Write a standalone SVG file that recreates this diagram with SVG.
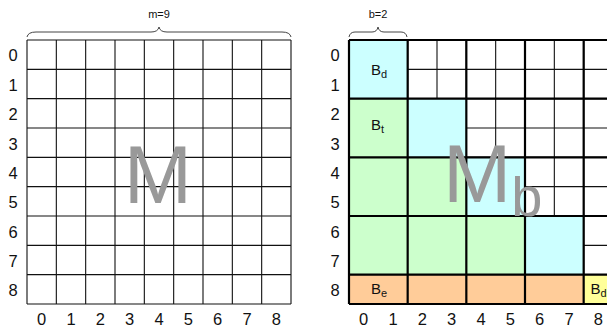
<svg xmlns="http://www.w3.org/2000/svg" width="607" height="331" viewBox="0 0 607 331">
<style>
text{font-family:"Liberation Sans",Arial,sans-serif;fill:#111}
.lbl{font-size:16.5px;text-anchor:middle}
.sm{font-size:11px;text-anchor:middle}
.thin{stroke:#111;stroke-width:1.1;fill:none}
.thick{stroke:#000;stroke-width:2.2;fill:none}
.brace{stroke:#444;stroke-width:1;fill:none}
.big{fill:#999;text-anchor:middle}
.blk{font-size:15px}
.sub{font-size:11px}
.cy{fill:#ccffff}.gr{fill:#ccffcc}.or{fill:#ffcc99}.ye{fill:#ffff99}
</style>
<rect width="607" height="331" fill="#fff"/>
<g id="left-grid">
<path class="thin" d="M27,40H291M27,69.33H291M27,98.67H291M27,128H291M27,157.33H291M27,186.67H291M27,216H291M27,245.33H291M27,274.67H291M27,304H291M27,40V304M56.33,40V304M85.67,40V304M115,40V304M144.33,40V304M173.67,40V304M203,40V304M232.33,40V304M261.67,40V304M291,40V304"/>
<text class="big" x="158" y="203" font-size="82">M</text>
</g>
<g id="left-brace">
<path class="brace" d="M27,37Q28,32 36,32H151Q158,32 159,27Q160,32 167,32H282Q290,32 291,37"/>
<text class="sm" x="159" y="18">m=9</text>
</g>
<g id="left-row-labels">
<text class="lbl" x="13" y="61">0</text><text class="lbl" x="13" y="90.5">1</text><text class="lbl" x="13" y="120">2</text><text class="lbl" x="13" y="149.5">3</text><text class="lbl" x="13" y="178.5">4</text><text class="lbl" x="13" y="208">5</text><text class="lbl" x="13" y="237.5">6</text><text class="lbl" x="13" y="266.5">7</text><text class="lbl" x="13" y="295.5">8</text>
</g>
<g id="left-col-labels">
<text class="lbl" x="41.7" y="325">0</text><text class="lbl" x="71" y="325">1</text><text class="lbl" x="100.3" y="325">2</text><text class="lbl" x="129.7" y="325">3</text><text class="lbl" x="159" y="325">4</text><text class="lbl" x="188.3" y="325">5</text><text class="lbl" x="217.7" y="325">6</text><text class="lbl" x="247" y="325">7</text><text class="lbl" x="276.3" y="325">8</text>
</g>
<g id="right-grid">
<path class="thin" d="M349,40H613M349,69.33H613M349,98.67H613M349,128H613M349,157.33H613M349,186.67H613M349,216H613M349,245.33H613M349,274.67H613M349,304H613M349,40V304M378.33,40V304M407.67,40V304M437,40V304M466.33,40V304M495.67,40V304M525,40V304M554.33,40V304M583.67,40V304"/>
<g id="diag-blocks">
<rect class="cy" x="349" y="40" width="58.67" height="58.67"/>
<rect class="cy" x="407.67" y="98.67" width="58.67" height="58.67"/>
<rect class="cy" x="466.33" y="157.33" width="58.67" height="58.67"/>
<rect class="cy" x="525" y="216" width="58.67" height="58.67"/>
</g>
<g id="lower-blocks">
<rect class="gr" x="349" y="98.67" width="58.67" height="176"/>
<rect class="gr" x="407.67" y="157.33" width="58.67" height="117.33"/>
<rect class="gr" x="466.33" y="216" width="58.67" height="58.67"/>
</g>
<g id="last-row">
<rect class="or" x="349" y="274.67" width="234.67" height="29.33"/>
<rect class="ye" x="583.67" y="274.67" width="29.33" height="29.33"/>
</g>
<path class="thick" d="M349,40H613M349,98.67H613M349,157.33H613M349,216H613M349,274.67H613M349,304H613M349,40V304M407.67,40V304M466.33,40V304M525,40V304M583.67,40V304"/>
<text x="371" y="74.5" class="blk">B<tspan class="sub" dy="3">d</tspan></text>
<text x="371" y="129.5" class="blk">B<tspan class="sub" dy="3">t</tspan></text>
<text x="371" y="294" class="blk">B<tspan class="sub" dy="3">e</tspan></text>
<text x="590.5" y="294" class="blk">B<tspan class="sub" dy="3">d</tspan></text>
<text x="443" y="202" font-size="82" style="fill:#999">M<tspan font-size="56" dy="14">b</tspan></text>
</g>
<g id="right-brace">
<path class="brace" d="M349,37Q350,32 355,32H372Q377,32 378,27Q379,32 384,32H401Q406,32 407,37"/>
<text class="sm" x="378" y="18">b=2</text>
</g>
<g id="right-row-labels">
<text class="lbl" x="335" y="61">0</text><text class="lbl" x="335" y="90.5">1</text><text class="lbl" x="335" y="120">2</text><text class="lbl" x="335" y="149.5">3</text><text class="lbl" x="335" y="178.5">4</text><text class="lbl" x="335" y="208">5</text><text class="lbl" x="335" y="237.5">6</text><text class="lbl" x="335" y="266.5">7</text><text class="lbl" x="335" y="295.5">8</text>
</g>
<g id="right-col-labels">
<text class="lbl" x="363.7" y="325">0</text><text class="lbl" x="393" y="325">1</text><text class="lbl" x="422.3" y="325">2</text><text class="lbl" x="451.7" y="325">3</text><text class="lbl" x="481" y="325">4</text><text class="lbl" x="510.3" y="325">5</text><text class="lbl" x="539.7" y="325">6</text><text class="lbl" x="569" y="325">7</text><text class="lbl" x="598.3" y="325">8</text>
</g>
</svg>
